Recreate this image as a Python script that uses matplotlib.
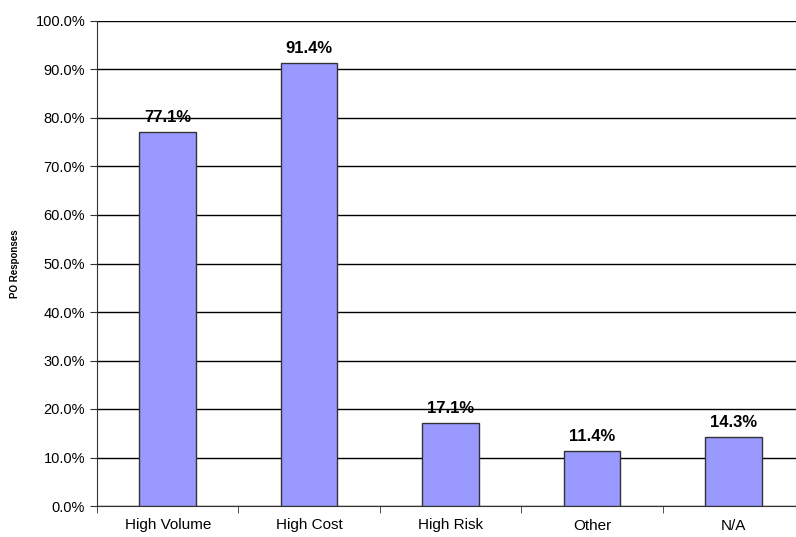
import matplotlib
matplotlib.use("Agg")
import matplotlib.pyplot as plt
from matplotlib.ticker import FuncFormatter, FixedLocator

plt.rcParams['font.family'] = ['Liberation Sans', 'DejaVu Sans']

categories = ['High Volume', 'High Cost', 'High Risk', 'Other', 'N/A']
responses = [77.1, 91.4, 17.1, 11.4, 14.3]

fig = plt.figure(figsize=(7.96, 5.37), dpi=100)
ax = fig.add_axes([97 / 796, 31 / 537, 707 / 796, 485 / 537])

x = list(range(len(categories)))
bars = ax.bar(x, responses, width=0.4, color='#9999FF', edgecolor='#333333',
              linewidth=1.0, zorder=3)

# value labels over each bar
for xi, v in zip(x, responses):
    ax.annotate('%.1f%%' % v, (xi, v), xytext=(0, 5), textcoords='offset points',
                ha='center', va='bottom', fontsize=12, fontweight='bold', zorder=4)

ax.set_xlim(-0.5, len(categories) - 0.5)
ax.set_ylim(0, 100)
ax.set_yticks(range(0, 101, 10))
ax.yaxis.set_major_formatter(FuncFormatter(lambda v, p: '%.1f%%' % v))
ax.yaxis.grid(True, color='black', linewidth=1.0, zorder=0)

ax.set_xticks(x)
ax.set_xticklabels(categories, fontsize=11)
ax.xaxis.set_minor_locator(FixedLocator([i + 0.5 for i in range(-1, len(categories))]))
ax.tick_params(axis='x', which='major', length=0, pad=9)
ax.tick_params(axis='x', which='minor', length=5, direction='out', color='#333333')
ax.tick_params(axis='y', length=5, direction='out', labelsize=10.5, color='#333333')

for side in ['top', 'right']:
    ax.spines[side].set_visible(False)
ax.spines['left'].set_color('#333333')
ax.spines['bottom'].set_color('#333333')

ax.set_ylabel('PO Responses', fontsize=7, fontweight='bold', labelpad=11)

fig.savefig('out.png', dpi=100)
